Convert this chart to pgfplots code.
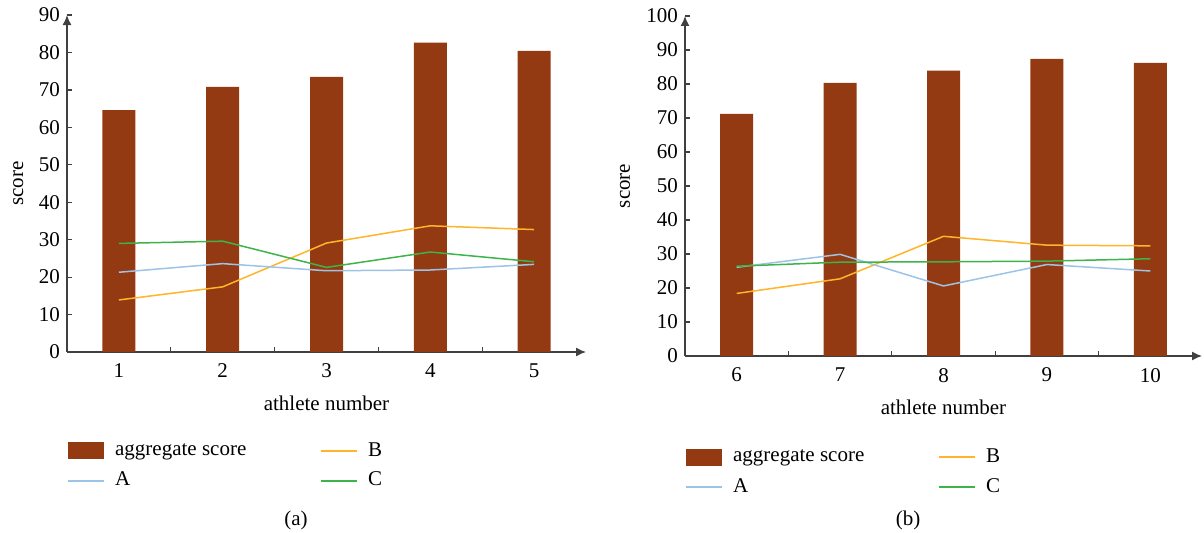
\documentclass[border=0pt]{standalone}
\usepackage{fontspec}
\setmainfont{Liberation Serif}
\usepackage{pgfplots}
\pgfplotsset{compat=1.18}
\usetikzlibrary{arrows.meta}
\definecolor{barc}{HTML}{943A12}
\definecolor{cA}{HTML}{9DC3E6}
\definecolor{cB}{HTML}{FFB42A}
\definecolor{cC}{HTML}{3DB34A}
\definecolor{axc}{HTML}{404040}
\newcommand{\lf}{\fontsize{10.5}{12}\selectfont}
\pgfplotsset{
  myaxis/.style={
    scale only axis,
    anchor=south west,
    axis lines=left,
    axis line style={color=axc, line width=0.7pt},
    x axis line style={-{Latex[length=5pt,width=4.5pt]}},
    y axis line style={-{Latex[length=5pt,width=4.5pt]}},
    tick align=inside,
    major tick length=2.5pt,
    tick style={color=axc, line width=0.6pt},
    xticklabels={},
    extra x tick style={major tick length=0pt, xticklabel style={yshift=-2.5pt}},
    tick label style={font=\lf},
    /pgf/number format/assume math mode=true,
    label style={font=\lf},
    xlabel={athlete number},
    ylabel={score},
    x label style={at={(axis description cs:0.5,0)}, anchor=center, yshift=-25.5pt},
    legend columns=2,
    legend cell align=left,
    legend style={anchor=north west, draw=none, fill=none, inner sep=0pt,
      font=\lf, row sep=2.5pt,
      /tikz/every even column/.append style={column sep=35pt}},
  },
  barst/.style={ybar, bar width=16.5pt, fill=barc, draw=none,
    legend image code/.code={\fill[barc] (0pt,-4.25pt) rectangle (18pt,4.25pt); \path (21pt,0pt);}},
  lnst/.style={color=#1, line width=0.75pt, mark=none,
    legend image code/.code={\draw[#1, line width=1pt] (0pt,0pt) -- (18pt,0pt); \path (21pt,0pt);}},
}
\begin{document}
\begin{tikzpicture}
\useasboundingbox (0pt,0pt) rectangle (602pt,-266.5pt);
\begin{axis}[myaxis,
  at={(33.5pt,-176pt)}, width=259.5pt, height=168.5pt,
  xmin=0.5, xmax=5.5, ymin=0, ymax=90,
  xtick={1.5,2.5,3.5,4.5},
  extra x ticks={1,2,3,4,5},
  extra x tick labels={1,2,3,4,5},
  ytick={0,10,...,90},
  y label style={at={(axis description cs:-0.094,0.5)}, anchor=center},
  legend style={at={(axis description cs:0,-0.255)}},
]
\addplot[barst] coordinates {(1,64.6) (2,70.8) (3,73.5) (4,82.6) (5,80.4)};
\addlegendentry{aggregate score}
\addplot[lnst=cB] coordinates {(1,13.9) (2,17.4) (3,29.1) (4,33.7) (5,32.7)};
\addlegendentry{B}
\addplot[lnst=cA] coordinates {(1,21.3) (2,23.6) (3,21.7) (4,21.9) (5,23.4)};
\addlegendentry{A}
\addplot[lnst=cC] coordinates {(1,29.0) (2,29.6) (3,22.6) (4,26.7) (5,24.1)};
\addlegendentry{C}
\end{axis}
\begin{axis}[myaxis,
  at={(342.5pt,-178pt)}, width=258.5pt, height=170pt,
  xmin=5.5, xmax=10.5, ymin=0, ymax=100,
  xtick={6.5,7.5,8.5,9.5},
  extra x ticks={6,7,8,9,10},
  extra x tick labels={6,7,8,9,10},
  ytick={0,10,...,100},
  y label style={at={(axis description cs:-0.116,0.5)}, anchor=center},
  legend style={at={(axis description cs:0,-0.26)}},
]
\addplot[barst] coordinates {(6,71.2) (7,80.3) (8,83.9) (9,87.4) (10,86.2)};
\addlegendentry{aggregate score}
\addplot[lnst=cB] coordinates {(6,18.4) (7,22.7) (8,35.2) (9,32.6) (10,32.4)};
\addlegendentry{B}
\addplot[lnst=cA] coordinates {(6,26.1) (7,29.9) (8,20.6) (9,26.9) (10,25.0)};
\addlegendentry{A}
\addplot[lnst=cC] coordinates {(6,26.4) (7,27.6) (8,27.7) (9,27.9) (10,28.6)};
\addlegendentry{C}
\end{axis}
\node[font=\lf] at (148pt,-260pt) {(a)};
\node[font=\lf] at (454pt,-260pt) {(b)};
\end{tikzpicture}
\end{document}
